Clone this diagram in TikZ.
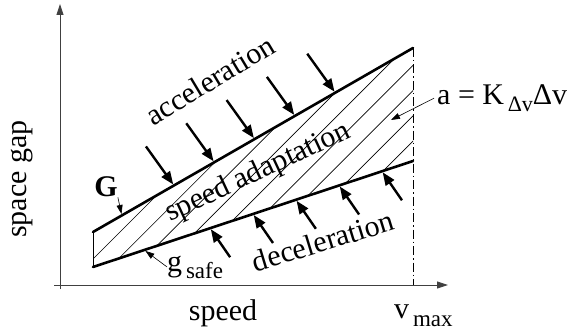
\documentclass[tikz,border=0pt]{standalone}
\usepackage{fontspec}
\setmainfont{Liberation Serif}
\usetikzlibrary{arrows.meta, calc}

\tikzset{
  axis/.style={line width=0.9pt, draw=black!75, -{Triangle[length=11pt,width=7pt]}},
  border/.style={line width=2.6pt, line cap=round},
  hatch/.style={line width=0.7pt},
  push/.style={line width=2.4pt, -{Triangle[length=13pt,width=10pt]}},
  pointer/.style={line width=0.6pt, -{Triangle[length=9pt,width=6pt]}},
  lbl/.style={font=\fontsize{30}{32}\selectfont, inner sep=0pt},
}

\begin{document}
\begin{tikzpicture}[x=1pt, y=-1pt]
  \useasboundingbox (0,0) rectangle (572,334);

  % axes
  \coordinate (xfrom) at (54,285);
  \coordinate (xto)   at (448,285);
  \coordinate (yfrom) at (60,289);
  \coordinate (yto)   at (60,4);
  \draw[axis] (xfrom) -- (xto);
  \draw[axis] (yfrom) -- (yto);

  % corners of the band
  \coordinate (Gl) at (93,232);
  \coordinate (Gr) at (413,48);
  \coordinate (Sl) at (93,267);
  \coordinate (Sr) at (413,161);
  \coordinate (vfoot) at (413,285);

  % hatching
  \begin{scope}
    \clip (Gl) -- (Gr) -- (Sr) -- (Sl) -- cycle;
    \foreach \c in {0,...,8}
      \draw[hatch] ({52+25.25*\c},300) -- ({352+25.25*\c},0);
  \end{scope}

  \draw[line width=0.8pt] (Gl) -- (Sl);
  \draw[line width=0.8pt, dash pattern=on 9pt off 3pt on 1.5pt off 3pt] (Gr) -- (vfoot);
  \draw[border] (Gl) -- (Gr);
  \draw[border] (Sl) -- (Sr);

  % acceleration arrows
  \foreach \t in {0.253,0.379,0.505,0.631,0.757}
    \draw[push, shorten >=1.2pt] ($(Gl)!\t!(Gr)+(-28,-39)$) -- ($(Gl)!\t!(Gr)$);
  % deceleration arrows
  \foreach \t in {0.366,0.5,0.634,0.769,0.903}
    \draw[push, shorten >=1.2pt] ($(Sl)!\t!(Sr)+(20,29)$) -- ($(Sl)!\t!(Sr)$);

  % labels
  \node[lbl, rotate=90] (ylabel) at (22,179) {space gap};
  \node[lbl, anchor=base] (xlabel) at (223,320) {speed};
  \node[lbl, anchor=base west] (vmax) at (394,318) {v\raisebox{-8pt}{\fontsize{23}{23}\selectfont\,max}};
  \node[lbl, rotate=31] (acc) at (210,80) {acceleration};
  \node[lbl, rotate=25] (adapt) at (258,173) {speed adaptation};
  \node[lbl, rotate=17] (dec) at (323,241) {deceleration};
  \node[lbl, font=\fontsize{30}{32}\selectfont\bfseries] (G) at (106,187) {G};
  \node[lbl, anchor=base west] (gsafe) at (167,271) {g\raisebox{-7pt}{\fontsize{23}{23}\selectfont\,safe}};
  \node[lbl, anchor=base west] (law) at (437,105) {a = K\raisebox{-6pt}{\fontsize{22}{22}\selectfont\,Δv}Δv};

  % pointers
  \coordinate (aim) at (391,120);
  \draw[pointer, shorten >=1.5pt] (G.south east) -- ($(Gl)!0.09!(Gr)$);
  \draw[pointer, shorten >=1.5pt] (gsafe.west) -- ($(Sl)!0.16!(Sr)$);
  \draw[pointer] ($(law.west)+(-3,0)$) -- (aim);
\end{tikzpicture}
\end{document}
